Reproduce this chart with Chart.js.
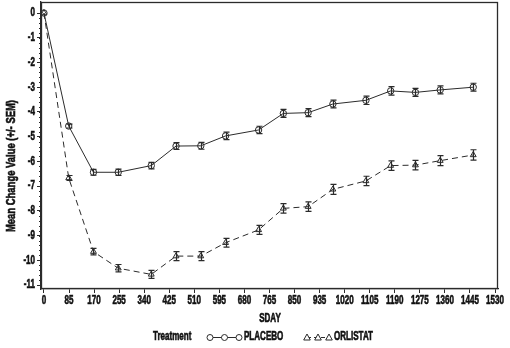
<!DOCTYPE html>
<html>
<head>
<meta charset="utf-8">
<script src="https://cdn.jsdelivr.net/npm/chart.js@4/dist/chart.umd.min.js"></script>
<style>
  html, body { margin: 0; padding: 0; background: #fff; }
  #wrap { width: 510px; height: 348px; position: relative; }
</style>
</head>
<body>
<div id="wrap"><canvas id="c" width="510" height="348"></canvas></div>
<script>
// ---- data ----
const days = [0, 84, 168, 252, 364, 448, 532, 616, 728, 812, 896, 980, 1092, 1176, 1260, 1344, 1456];
const placeboMean = [0, -4.57, -6.44, -6.44, -6.17, -5.38, -5.37, -4.97, -4.73, -4.06, -4.03, -3.68, -3.53, -3.15, -3.21, -3.11, -3.00];
const placeboSem  = [0, 0.08, 0.12, 0.13, 0.13, 0.14, 0.14, 0.15, 0.15, 0.16, 0.16, 0.16, 0.17, 0.17, 0.16, 0.16, 0.16];
const orlistatMean = [0, -6.67, -9.65, -10.32, -10.57, -9.83, -9.83, -9.29, -8.77, -7.90, -7.83, -7.13, -6.79, -6.17, -6.15, -5.97, -5.74];
const orlistatSem  = [0, 0.10, 0.13, 0.15, 0.16, 0.18, 0.18, 0.18, 0.18, 0.19, 0.19, 0.20, 0.19, 0.19, 0.19, 0.20, 0.21];
const xTicks = [0, 85, 170, 255, 340, 425, 510, 595, 680, 765, 850, 935, 1020, 1105, 1190, 1275, 1360, 1445, 1530];
const yTicks = [0, -1, -2, -3, -4, -5, -6, -7, -8, -9, -10, -11];
const seriesNames = ['PLACEBO', 'ORLISTAT'];
const legendTitle = 'Treatment';
const xTitle = 'SDAY';
const yTitle = 'Mean Change Value (+/- SEM)';

const TFONT = '"Liberation Sans", sans-serif';
const INK = '#2b2b2b';
const NARROW = 0.67;

function pts(m) { return days.map((d, i) => ({ x: d, y: m[i] })); }

const sems = [placeboSem, orlistatSem];

const errorBars = {
  id: 'errorBars',
  afterDatasetsDraw(chart) {
    const ctx = chart.ctx, xs = chart.scales.x, ys = chart.scales.y;
    ctx.save();
    ctx.strokeStyle = INK; ctx.lineWidth = 1.2; ctx.setLineDash([]);
    chart.data.datasets.forEach((ds, di) => {
      ds.data.forEach((p, i) => {
        const s = sems[di][i];
        if (!s) return;
        const x = Math.round(xs.getPixelForValue(p.x)) + 0.5;
        const y1 = ys.getPixelForValue(p.y + s), y2 = ys.getPixelForValue(p.y - s);
        ctx.beginPath();
        ctx.moveTo(x, y1); ctx.lineTo(x, y2);
        ctx.moveTo(x - 3, y1); ctx.lineTo(x + 3, y1);
        ctx.moveTo(x - 3, y2); ctx.lineTo(x + 3, y2);
        ctx.stroke();
      });
    });
    ctx.restore();
  }
};

// bold text squeezed horizontally (narrow bold look); k = horizontal scale, or width target
function narrowText(ctx, text, x, y, k, align, rotate, width) {
  ctx.save();
  ctx.font = 'bold 12px ' + TFONT;
  ctx.fillStyle = '#111';
  ctx.strokeStyle = '#111';
  ctx.lineWidth = 0.6;
  ctx.textBaseline = 'middle';
  ctx.textAlign = 'left';
  const w = ctx.measureText(text).width;
  if (width) k = width / w;
  ctx.translate(x, y);
  if (rotate) ctx.rotate(-Math.PI / 2);
  ctx.scale(k, 1);
  let ox = 0;
  if (align === 'center') ox = -w / 2;
  else if (align === 'right') ox = -w;
  ctx.fillText(text, ox, 0);
  ctx.strokeText(text, ox, 0);
  ctx.restore();
}

const frameAndLegend = {
  id: 'frameAndLegend',
  afterDraw(chart) {
    const ctx = chart.ctx, a = chart.chartArea, xs = chart.scales.x, ys = chart.scales.y;
    ctx.save();
    ctx.strokeStyle = INK; ctx.lineWidth = 1.3; ctx.setLineDash([]);
    ctx.strokeRect(a.left + 0.5, a.top + 0.5, a.right - a.left - 1, a.bottom - a.top - 1);
    ctx.lineWidth = 1;
    for (let v = 0; v >= -11.0001; v -= 0.2) {
      const y = Math.round(ys.getPixelForValue(v)) + 0.5;
      ctx.beginPath(); ctx.moveTo(a.left - 2, y); ctx.lineTo(a.left, y); ctx.stroke();
    }
    ctx.restore();
    // tick labels from the library's scales
    xs.ticks.forEach(t => narrowText(ctx, String(t.value), xs.getPixelForValue(t.value), a.bottom + 12, NARROW, 'center'));
    ys.ticks.forEach(t => narrowText(ctx, String(t.value), a.left - 6, ys.getPixelForValue(t.value), NARROW, 'right'));
    // titles
    narrowText(ctx, xTitle, 270, 319, NARROW, 'center');
    narrowText(ctx, yTitle, 12, 166, NARROW, 'center', true, 132);
    // legend
    const ly = 337;
    narrowText(ctx, legendTitle, 153, ly, NARROW, 'left');
    const dsets = chart.data.datasets;
    function sample(x0, x1, dash, style) {
      ctx.save();
      ctx.strokeStyle = INK; ctx.lineWidth = 1;
      ctx.setLineDash(dash);
      ctx.beginPath(); ctx.moveTo(x0, ly + 0.5); ctx.lineTo(x1, ly + 0.5); ctx.stroke();
      ctx.setLineDash([]);
      const mid = (x0 + x1) / 2;
      [x0, mid, x1].forEach(x => {
        ctx.fillStyle = '#fff';
        if (style === 'circle') {
          ctx.beginPath(); ctx.arc(x, ly + 0.5, 3, 0, Math.PI * 2); ctx.fill(); ctx.stroke();
        } else {
          ctx.beginPath(); ctx.moveTo(x, ly - 3); ctx.lineTo(x + 3.3, ly + 3); ctx.lineTo(x - 3.3, ly + 3); ctx.closePath(); ctx.fill(); ctx.stroke();
        }
      });
      ctx.restore();
    }
    sample(210, 239, [], 'circle');
    narrowText(ctx, dsets[0].label, 244, ly, NARROW, 'left');
    sample(307, 329, [4, 3], 'triangle');
    narrowText(ctx, dsets[1].label, 334, ly, NARROW, 'left');
  }
};

new Chart(document.getElementById('c'), {
  type: 'line',
  data: {
    datasets: [
      {
        label: seriesNames[0], data: pts(placeboMean),
        borderColor: INK, borderWidth: 1, pointStyle: 'circle', pointRadius: 3.2,
        pointBackgroundColor: 'rgba(255,255,255,0)', pointBorderColor: INK, pointBorderWidth: 1,
        fill: false, tension: 0
      },
      {
        label: seriesNames[1], data: pts(orlistatMean),
        borderColor: INK, borderWidth: 1, borderDash: [6, 4], pointStyle: 'triangle', pointRadius: 3.4,
        pointBackgroundColor: 'rgba(255,255,255,0)', pointBorderColor: INK, pointBorderWidth: 1,
        fill: false, tension: 0
      }
    ]
  },
  options: {
    responsive: false, animation: false, devicePixelRatio: 1,
    layout: { autoPadding: false, padding: { left: 12, top: 2, right: 12, bottom: 0 } },
    plugins: { legend: { display: false }, tooltip: { enabled: false } },
    scales: {
      x: {
        type: 'linear', min: -10, max: 1540,
        afterBuildTicks(s) { s.ticks = xTicks.map(v => ({ value: v })); },
        afterFit(s) { s.height = 59; s.paddingLeft = 0; s.paddingRight = 0; },
        grid: { drawOnChartArea: false, drawTicks: true, tickLength: 4, color: INK, tickWidth: 1 },
        border: { display: true, color: INK, width: 1.3 },
        ticks: { display: false, autoSkip: false }
      },
      y: {
        type: 'linear', min: -11.16, max: 0.445,
        afterBuildTicks(s) { s.ticks = yTicks.map(v => ({ value: v })); },
        afterFit(s) { s.width = 29; s.paddingTop = 0; s.paddingBottom = 0; },
        grid: { drawOnChartArea: false, drawTicks: true, tickLength: 4, color: INK, tickWidth: 1 },
        border: { display: true, color: INK, width: 1.3 },
        ticks: { display: false, autoSkip: false }
      }
    }
  },
  plugins: [errorBars, frameAndLegend]
});
</script>
</body>
</html>
